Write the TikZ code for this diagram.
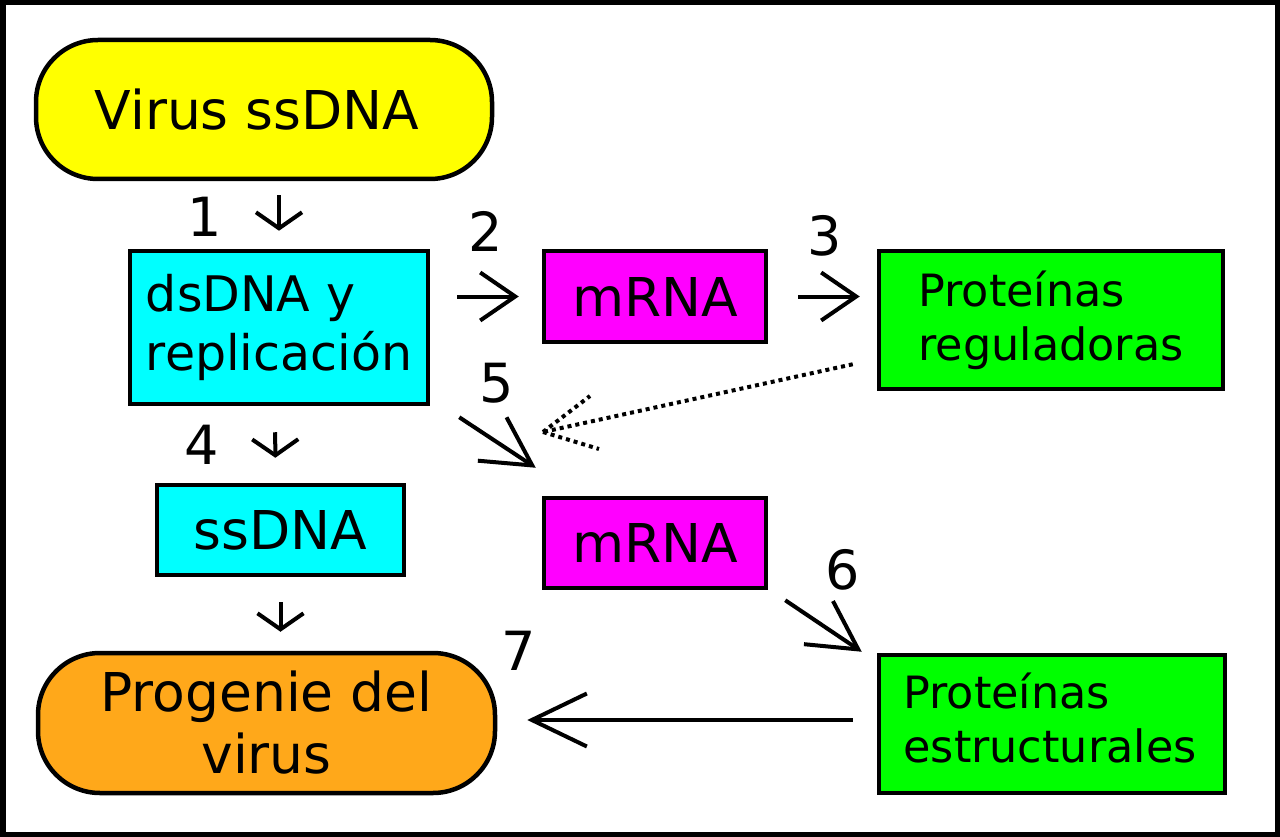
\documentclass[tikz,border=0pt]{standalone}
\usepackage{fontspec}
\setmainfont{DejaVu Sans}
\usetikzlibrary{arrows.meta, positioning}
\definecolor{virusyel}{RGB}{255,255,0}
\definecolor{dnacyan}{RGB}{0,255,255}
\definecolor{rnamag}{RGB}{255,0,255}
\definecolor{protgreen}{RGB}{0,255,0}
\definecolor{progcol}{RGB}{255,168,26}
\tikzset{
  box/.style={draw, line width=4.5pt, inner sep=0pt, align=left},
  pill/.style={box, rounded corners=62pt, align=center},
  arr/.style={-{Straight Barb[length=35pt,width=48pt]}, line width=4pt},
  darr/.style={-{Straight Barb[length=48pt,width=52pt]}, line width=4pt},
  sarr/.style={-{Straight Barb[length=16pt,width=46pt]}, line width=4pt},
  num/.style={inner sep=0pt, font=\fontsize{54}{60}\selectfont},
}

\begin{document}
\begin{tikzpicture}[x=1pt, y=-1pt]
		\useasboundingbox (0,0) rectangle (1280,837);
		\draw [line width=5.5pt] (2.75,2.75) rectangle (1277.25,834.25);
		\node (virus) at (264,109.5) [pill, fill=virusyel, minimum width=456pt, minimum height=139pt]{};
		\node (virustxt) at (257,109.5) [inner sep=0pt, font=\fontsize{53.5}{64}\selectfont]{Virus ssDNA};
		\node (dsdna) at (279,327.5) [box, fill=dnacyan, minimum width=298pt, minimum height=153pt, font=\fontsize{49}{59}\selectfont]{dsDNA y\\replicación};
		\node (mrna1) at (655,296.5) [box, fill=rnamag, minimum width=222pt, minimum height=91pt, font=\fontsize{53.5}{64}\selectfont]{mRNA};
		\node (regul) at (1051,320) [box, fill=protgreen, minimum width=344pt, minimum height=138pt, font=\fontsize{44.5}{54}\selectfont]{Proteínas\\reguladoras};
		\node (ssdna) at (280.5,530) [box, fill=dnacyan, minimum width=247pt, minimum height=90pt, font=\fontsize{53.5}{64}\selectfont]{ssDNA};
		\node (mrna2) at (655,543) [box, fill=rnamag, minimum width=222pt, minimum height=90pt, font=\fontsize{53.5}{64}\selectfont]{mRNA};
		\node (estruct) at (1052,724) [box, fill=protgreen, minimum width=346pt, minimum height=138pt]{};
		\node (estructtxt) at (1050,718) [inner sep=0pt, align=left, font=\fontsize{44.5}{54}\selectfont]{Proteínas\\estructurales};
		\node (progenie) at (266.5,723) [pill, fill=progcol, minimum width=457pt, minimum height=140pt, font=\fontsize{53.5}{62}\selectfont]{Progenie del\\virus};
		% steps
		\draw [sarr, shorten <=14pt, shorten >=18pt] (dsdna.north |- virus.south) -- (dsdna.north);
		\draw [arr, shorten <=27pt, shorten >=23pt] (dsdna.east |- mrna1.west) -- (mrna1.west);
		\draw [arr, shorten <=30pt, shorten >=17pt] (mrna1.east) -- (regul.west |- mrna1.east);
		\draw [sarr, shorten <=26pt, shorten >=25pt] ([xshift=-4pt]dsdna.south) -- ([xshift=-5pt]ssdna.north);
		\draw [darr] ([shift={(29,11)}]dsdna.south east) -- ([shift={(-6,-28)}]mrna2.north west);
		\draw [darr] ([shift={(17,10)}]mrna2.south east) -- ([shift={(-15,-1)}]estruct.north west);
		\draw [sarr, shorten <=25pt, shorten >=19pt] (ssdna.south) -- (ssdna.south |- progenie.north);
		\draw [-{Straight Barb[length=55pt,width=53pt]}, line width=4pt, shorten <=24pt, shorten >=30pt] ([yshift=4pt]estruct.west) -- ([yshift=3pt]progenie.east);
		% regulation
		\coordinate (hit) at (543,432);
		\draw [line width=4pt, dash pattern=on 4pt off 4pt] ([shift={(-24,-27)}]regul.south west) -- (hit);
		\draw [line width=4pt, dash pattern=on 4pt off 4pt] (hit) -- ++(47,-36);
		\draw [line width=4pt, dash pattern=on 4pt off 4pt] (hit) -- ++(56,17);
		\node (n1) at (205,217) [num]{1};
		\node (n2) at (486,231) [num]{2};
		\node (n3) at (825,236) [num]{3};
		\node (n4) at (202,445) [num]{4};
		\node (n5) at (497,383) [num]{5};
		\node (n6) at (843,570) [num]{6};
		\node (n7) at (519,651) [num]{7};
\end{tikzpicture}
\end{document}
